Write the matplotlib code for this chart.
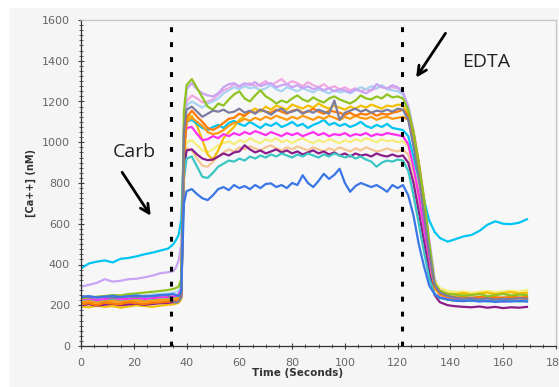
import numpy as np
import matplotlib
matplotlib.use("Agg")
from matplotlib import pyplot as plt
from matplotlib.patches import Rectangle
from matplotlib.ticker import MultipleLocator

# sample times (s): baseline, plateau, after EDTA
t_base = [0, 3, 6, 9, 12, 15, 18, 21, 24, 27, 30, 33, 35, 36, 37, 38, 39, 40]
t_plat = list(range(42, 123, 2))
t_tail = [124, 126, 128, 130, 132, 134, 136, 139, 142, 145, 148, 151, 154, 157, 160, 163, 166, 169]
time_s = t_base + t_plat + t_tail

pink = [222, 228, 232, 226, 230, 235, 232, 228, 236, 238, 240, 245, 248, 250, 255, 290, 1080, 1200,
        1230, 1215, 1195, 1200, 1210, 1235, 1255, 1265, 1285, 1270, 1280, 1290, 1275, 1285, 1300, 1280, 1295,
        1310, 1285, 1300, 1290, 1275, 1295, 1280, 1270, 1285, 1265, 1275, 1260, 1270, 1255, 1265, 1250, 1260,
        1255, 1265, 1275, 1260, 1270, 1265, 1240,
        1170, 1040, 880, 700, 500, 320, 272, 250, 242, 238, 240, 236, 240, 235, 238, 236, 234, 238]
light_blue = [238, 242, 240, 244, 246, 242, 248, 250, 246, 252, 255, 258, 262, 265, 268, 300, 1060, 1180,
              1200, 1185, 1170, 1190, 1200, 1215, 1240, 1255, 1270, 1260, 1275, 1265, 1270, 1255, 1265, 1280, 1260,
              1250, 1270, 1260, 1250, 1265, 1255, 1245, 1260, 1250, 1240, 1255, 1245, 1250, 1240, 1255, 1270, 1260,
              1275, 1265, 1280, 1260, 1255, 1250, 1235,
              1150, 1000, 830, 650, 460, 310, 268, 250, 240, 236, 232, 235, 230, 233, 228, 232, 230, 233]
lavender = [291, 300, 310, 328, 316, 320, 328, 330, 337, 345, 357, 362, 368, 385, 420, 500, 1000, 1260,
            1290, 1260, 1240, 1230, 1225, 1240, 1270, 1285, 1290, 1275, 1290, 1280, 1295, 1275, 1285, 1290, 1270,
            1280, 1285, 1270, 1280, 1265, 1275, 1260, 1270, 1255, 1265, 1250, 1260, 1255, 1245, 1260, 1250, 1240,
            1255, 1285, 1270, 1265, 1280, 1270, 1245,
            1180, 1060, 900, 730, 520, 330, 275, 255, 245, 240, 235, 240, 236, 232, 238, 235, 233, 236]
light_yellow = [210, 215, 208, 212, 218, 214, 210, 216, 220, 214, 218, 222, 225, 228, 232, 260, 900, 1000,
                1010, 985, 960, 950, 965, 985, 995, 1005, 990, 1010, 1000, 1020, 1005, 995, 1015, 1005, 1020,
                1000, 1010, 995, 1010, 1020, 1005, 995, 1010, 1000, 1015, 1005, 995, 1010, 1000, 1015, 1005, 1020,
                1010, 1000, 1015, 1005, 1010, 1000, 1005,
                980, 890, 760, 610, 450, 320, 285, 270, 265, 268, 262, 266, 270, 264, 268, 272, 266, 275]
peach = [215, 210, 218, 212, 208, 214, 218, 212, 216, 220, 215, 220, 224, 226, 230, 255, 860, 970,
         960, 920, 885, 880, 905, 930, 950, 965, 955, 975, 965, 980, 970, 960, 975, 985, 970,
         960, 975, 965, 980, 970, 960, 975, 965, 955, 970, 960, 975, 965, 955, 970, 960, 975,
         965, 955, 960, 970, 960, 955, 965,
         940, 850, 720, 570, 410, 300, 262, 248, 240, 236, 238, 232, 236, 230, 234, 230, 228, 232]
gold = [195, 190, 198, 192, 196, 188, 194, 200, 196, 192, 198, 202, 205, 208, 212, 230, 900, 1110,
        1130, 1080, 1010, 940, 915, 960, 1020, 1050, 1075, 1110, 1130, 1150, 1165, 1150, 1175, 1160, 1180,
        1170, 1160, 1185, 1175, 1165, 1180, 1170, 1190, 1175, 1165, 1180, 1170, 1160, 1175, 1165, 1180, 1170,
        1185, 1175, 1165, 1180, 1175, 1185, 1180,
        1140, 1040, 880, 690, 460, 300, 270, 258, 255, 260, 252, 258, 262, 255, 260, 264, 258, 262]
magenta = [228, 232, 225, 230, 234, 228, 232, 236, 230, 234, 238, 240, 242, 245, 250, 280, 980, 1070,
           1075, 1040, 1010, 1015, 1030, 1020, 1040, 1030, 1045, 1035, 1050, 1040, 1055, 1045, 1035, 1050, 1040,
           1030, 1045, 1035, 1045, 1030, 1040, 1050, 1035, 1045, 1030, 1040, 1035, 1045, 1030, 1040, 1035, 1045,
           1030, 1040, 1035, 1045, 1040, 1035, 1030,
           990, 880, 740, 580, 420, 290, 252, 235, 228, 225, 222, 226, 220, 224, 218, 222, 220, 224]
purple = [200, 205, 198, 203, 207, 200, 204, 208, 202, 206, 210, 212, 215, 218, 222, 245, 860, 960,
          965, 940, 920, 912, 915, 930, 945, 935, 950, 955, 985, 965, 950, 960, 945, 955, 965,
          950, 960, 945, 955, 940, 950, 960, 945, 955, 940, 950, 935, 945, 930, 945, 935, 940,
          930, 945, 935, 930, 940, 930, 935,
          900, 800, 660, 510, 360, 250, 215, 200, 195, 192, 190, 194, 188, 192, 186, 190, 188, 192]
turquoise = [218, 222, 215, 220, 225, 218, 222, 226, 220, 224, 228, 230, 232, 235, 240, 262, 820, 920,
             930, 880, 830, 825, 850, 880, 895, 910, 905, 920, 910, 930, 920, 935, 925, 940, 930,
             945, 935, 925, 940, 930, 945, 935, 925, 940, 930, 945, 935, 925, 935, 920, 930, 915,
             905, 880, 900, 910, 905, 915, 910,
             860, 740, 600, 460, 330, 255, 235, 228, 222, 225, 220, 224, 218, 222, 220, 224, 218, 222]
cyan = [381, 405, 414, 420, 410, 428, 432, 440, 450, 458, 468, 478, 500, 520, 545, 620, 980, 1100,
        1110, 1090, 1070, 1060, 1075, 1085, 1070, 1095, 1105, 1090, 1080, 1100, 1085, 1070, 1090, 1080, 1095,
        1075, 1085, 1100, 1080, 1090, 1070, 1085, 1095, 1110, 1085, 1095, 1080, 1090, 1075, 1085, 1100, 1080,
        1070, 1085, 1075, 1090, 1070, 1065, 1060,
        1030, 930, 820, 715, 615, 560, 530, 512, 525, 538, 545, 565, 595, 612, 600, 598, 605, 622]
orange2 = [215, 220, 212, 218, 222, 216, 220, 224, 218, 222, 226, 228, 230, 232, 236, 255, 960, 1100,
           1120, 1100, 1080, 1050, 1040, 1045, 1060, 1080, 1095, 1100, 1115, 1105, 1120, 1110, 1125, 1115, 1130,
           1120, 1110, 1125, 1115, 1130, 1120, 1110, 1125, 1115, 1130, 1120, 1110, 1125, 1115, 1130, 1120, 1115,
           1125, 1110, 1120, 1125, 1115, 1120, 1125,
           1110, 1030, 880, 700, 460, 285, 252, 240, 235, 238, 232, 236, 240, 234, 238, 234, 236, 232]
orange = [205, 210, 200, 212, 208, 205, 215, 210, 206, 212, 214, 218, 222, 220, 225, 240, 950, 1120,
          1155, 1125, 1100, 1070, 1060, 1075, 1095, 1115, 1120, 1140, 1130, 1150, 1145, 1160, 1150, 1145, 1160,
          1150, 1140, 1155, 1160, 1145, 1150, 1165, 1150, 1140, 1155, 1150, 1145, 1135, 1145, 1130, 1140, 1135,
          1145, 1130, 1140, 1135, 1145, 1150, 1160,
          1130, 1050, 900, 715, 470, 290, 258, 245, 238, 240, 236, 242, 238, 240, 235, 242, 238, 240]
green = [234, 238, 242, 245, 250, 248, 255, 258, 262, 266, 270, 275, 280, 285, 291, 330, 1150, 1280,
         1310, 1265, 1220, 1175, 1160, 1190, 1180, 1210, 1235, 1250, 1215, 1200, 1230, 1255, 1225, 1210, 1190,
         1205, 1195, 1215, 1230, 1210, 1200, 1220, 1205, 1195, 1215, 1225, 1210, 1200, 1190, 1205, 1230, 1215,
         1210, 1225, 1215, 1235, 1220, 1225, 1215,
         1160, 1050, 890, 720, 500, 310, 270, 255, 252, 248, 250, 255, 245, 250, 255, 248, 252, 250]
slate = [245, 240, 238, 242, 236, 240, 244, 240, 246, 244, 248, 250, 220, 212, 218, 240, 1050, 1160,
         1175, 1150, 1125, 1140, 1155, 1150, 1160, 1145, 1150, 1165, 1145, 1155, 1140, 1160, 1150, 1135, 1155,
         1165, 1145, 1150, 1160, 1140, 1155, 1145, 1160, 1150, 1140, 1205, 1110, 1145, 1155, 1165, 1150, 1160,
         1145, 1155, 1150, 1160, 1150, 1165, 1160,
         1110, 980, 820, 640, 450, 300, 262, 245, 236, 232, 235, 230, 234, 228, 232, 230, 235, 232]
blue = [240, 245, 238, 242, 246, 240, 244, 248, 242, 246, 250, 252, 255, 250, 245, 270, 700, 760,
        770, 745, 725, 716, 740, 770, 780, 765, 790, 775, 785, 770, 790, 775, 795, 798, 780,
        790, 775, 800, 790, 838, 800, 780, 810, 845, 820, 840, 870, 800, 757, 785, 800, 790,
        780, 790, 775, 757, 790, 775, 790,
        740, 640, 500, 390, 295, 255, 238, 228, 222, 220, 224, 218, 222, 216, 220, 218, 222, 218]

traces = [
    (pink, "#f2a7e3"), (light_blue, "#a8d3f3"), (lavender, "#c9a3f4"),
    (light_yellow, "#f5ee7a"), (peach, "#f5c693"), (gold, "#f5bf00"),
    (magenta, "#ff30f0"), (purple, "#8b1d8b"), (turquoise, "#3bc6c3"),
    (cyan, "#00c5f2"), (orange2, "#ff9a10"), (orange, "#ff7a00"),
    (green, "#8fc320"), (slate, "#7b7c9f"), (blue, "#3b76e6"),
]

carb_time = 34
edta_time = 121.5

fig = plt.figure(figsize=(5.59, 3.87), dpi=100, facecolor="white")
fig.patches.append(Rectangle((9 / 559, 0), 1, 1 - 8 / 387, transform=fig.transFigure,
                             facecolor="#f5f5f5", edgecolor="none", zorder=-10))
ax = fig.add_axes([81 / 559, 41 / 387, 475 / 559, 326 / 387])
ax.set_facecolor("#f7f7f7")

for vals, col in traces:
    ax.plot(time_s, vals, color=col, lw=1.6, solid_joinstyle="round")

for xv in (carb_time, edta_time):
    ax.axvline(xv, color="black", lw=2.2, linestyle=(0, (1.6, 3.3)), dash_capstyle="butt", zorder=5)

ax.set_xlim(0, 180)
ax.set_ylim(0, 1600)
ax.xaxis.set_major_locator(MultipleLocator(20))
ax.xaxis.set_minor_locator(MultipleLocator(5))
ax.yaxis.set_major_locator(MultipleLocator(200))
ax.yaxis.set_minor_locator(MultipleLocator(25))
ax.tick_params(which="both", direction="inout", colors="#444444", labelcolor="#666666",
               labelsize=8, top=False, right=False)
ax.tick_params(which="major", length=4, width=0.8)
ax.tick_params(which="minor", length=3, width=0.6)
ax.tick_params(axis="x", pad=7)
ax.tick_params(axis="y", pad=6)

for side in ("left", "bottom"):
    ax.spines[side].set_color("#333333")
    ax.spines[side].set_linewidth(0.9)
for side in ("top", "right"):
    ax.spines[side].set_color("#c4c4c4")
    ax.spines[side].set_linewidth(0.9)

ax.set_ylabel("[Ca++] (nM)", fontsize=7, fontweight="bold", color="#333333", labelpad=4)
fig.text(298 / 559, 1 - 373 / 387, "Time (Seconds)", fontsize=7.5, fontweight="bold",
         color="#333333", ha="center", va="center")

ax.annotate("", xy=(27, 628), xytext=(15, 864),
            arrowprops=dict(arrowstyle="->", color="black", lw=2, mutation_scale=16))
ax.text(20.2, 952, "Carb", fontsize=14, family="Open Sans", color="#222222",
        ha="center", va="center")
ax.annotate("", xy=(126.4, 1306), xytext=(138.7, 1546),
            arrowprops=dict(arrowstyle="->", color="black", lw=2, mutation_scale=16))
ax.text(153.4, 1394, "EDTA", fontsize=14, family="Open Sans", color="#222222",
        ha="center", va="center")

fig.savefig("out.png", dpi=100, facecolor=fig.get_facecolor())
